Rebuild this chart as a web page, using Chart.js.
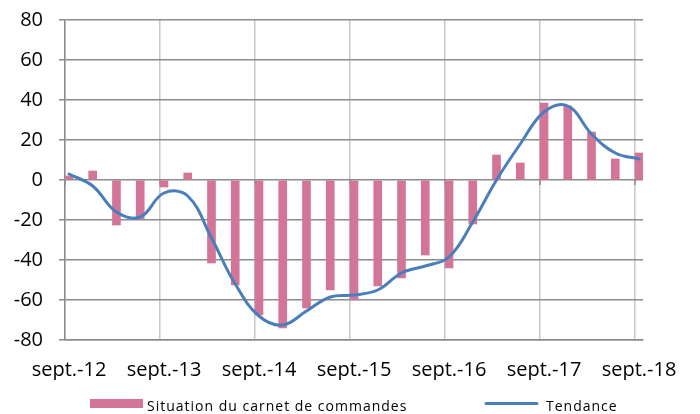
<!DOCTYPE html>
<html>
<head>
<meta charset="utf-8">
<script src="https://cdn.jsdelivr.net/npm/chart.js@4"></script>
<style>
    html, body { margin: 0; padding: 0; background: #fff; }
    #wrap { width: 700px; height: 414px; }
</style>
</head>
<body>
<div id="wrap"><canvas id="carnetChart" width="700" height="414"></canvas></div>
<script>

// =======================
// Data (one value per quarter, sept.-12 -> sept.-18)
// =======================

const tickLabels = [
    "sept.-12","sept.-13","sept.-14","sept.-15",
    "sept.-16","sept.-17","sept.-18"
];

const carnetValues = [
    2, 4.5, -22.5, -19.5, -3.5, 3.5, -41.5, -52.5,
    -67.5, -74, -64, -55, -60, -53, -49, -37.5,
    -44, -22, 12.5, 8.5, 38.5, 37, 24, 10.5, 13.5
];

const trendValues = [
    3, -3, -16, -18.5, -6.5, -8, -29, -52,
    -68, -72.5, -65.5, -58.5, -57.5, -55, -46.5, -43,
    -38.5, -21, 0, 18, 34, 37, 23, 13.5, 10.5
];

const seriesLabels = ["Situation du carnet de commandes", "Tendance"];

// x axis is in months since sept. 2012, each quarter sits mid-month
const toPoints = values => values.map((v, i) => ({ x: i * 3 + 0.5, y: v }));

const gridDark = "#8c8c8c";
const gridLight = "#c8c8c8";
const pink = "#d37598";
const blue = "#4a7ebb";

Chart.defaults.font.family = "'Open Sans', sans-serif";
Chart.defaults.color = "#000";

// small tick marks under the zero line
const zeroTicks = {
    id: "zeroTicks",
    beforeDatasetsDraw(chart) {
        const { ctx, scales: { x, y } } = chart;
        const y0 = y.getPixelForValue(0);
        ctx.save();
        ctx.strokeStyle = gridDark;
        ctx.lineWidth = 1.5;
        x.ticks.forEach(t => {
            const px = x.getPixelForValue(t.value);
            ctx.beginPath();
            ctx.moveTo(px, y0);
            ctx.lineTo(px, y0 + 5);
            ctx.stroke();
        });
        ctx.restore();
    }
};

// legend row under the axis labels
const bottomLegend = {
    id: "bottomLegend",
    afterDraw(chart) {
        const { ctx } = chart;
        const [bars, line] = chart.data.datasets;
        ctx.save();
        ctx.font = "14px 'Open Sans', sans-serif";
        ctx.letterSpacing = "1px";
        ctx.textBaseline = "alphabetic";

        ctx.fillStyle = bars.backgroundColor;
        ctx.fillRect(90, 399, 53, 9);
        ctx.fillStyle = "#000";
        ctx.fillText(bars.label, 147, 411);

        ctx.strokeStyle = line.borderColor;
        ctx.lineWidth = 3;
        ctx.lineCap = "round";
        ctx.beginPath();
        ctx.moveTo(486, 403.5);
        ctx.lineTo(537, 403.5);
        ctx.stroke();
        ctx.fillText(line.label, 546, 411);
        ctx.restore();
    }
};

const carnetCanvas = document.getElementById("carnetChart");

new Chart(carnetCanvas, {

    type: "bar",

    data: {

        datasets: [{

            type: "bar",

            label: seriesLabels[0],

            data: toPoints(carnetValues),

            backgroundColor: pink,

            barThickness: 8,

            order: 1

        }, {

            type: "line",

            label: seriesLabels[1],

            data: toPoints(trendValues),

            borderColor: blue,

            borderWidth: 3,

            borderCapStyle: "round",

            pointRadius: 0,

            tension: 0.4,

            order: 0

        }]

    },

    options: {

        responsive: false,

        animation: false,

        layout: {
            padding: { top: 20, right: 57, bottom: 34, left: 0 }
        },

        plugins: {
            legend: { display: false },
            tooltip: { enabled: false }
        },

        scales: {

            x: {
                type: "linear",
                min: 0,
                max: 73,
                offset: false,
                grid: {
                    color: gridLight,
                    lineWidth: 1.5,
                    drawTicks: false,
                    offset: false
                },
                border: { color: gridDark, width: 1.5 },
                ticks: {
                    padding: 18,
                    labelOffset: 4,
                    maxRotation: 0,
                    autoSkip: false,
                    font: { size: 20 },
                    callback: value => tickLabels[value / 12]
                },
                afterBuildTicks: scale => {
                    scale.ticks = tickLabels.map((_, i) => ({ value: i * 12 }));
                },
                afterFit: scale => {
                    scale.height = 40;
                    scale.paddingLeft = 0;
                    scale.paddingRight = 0;
                }
            },

            y: {
                min: -80,
                max: 80,
                grid: {
                    color: gridDark,
                    lineWidth: 1.5,
                    tickLength: 6
                },
                border: { color: gridDark, width: 1.5 },
                ticks: {
                    stepSize: 20,
                    padding: 16,
                    font: { size: 20 }
                },
                afterFit: scale => {
                    scale.width = 65;
                    scale.paddingTop = 0;
                    scale.paddingBottom = 0;
                }
            }

        }

    },

    plugins: [zeroTicks, bottomLegend]

});

</script>
</body>
</html>
